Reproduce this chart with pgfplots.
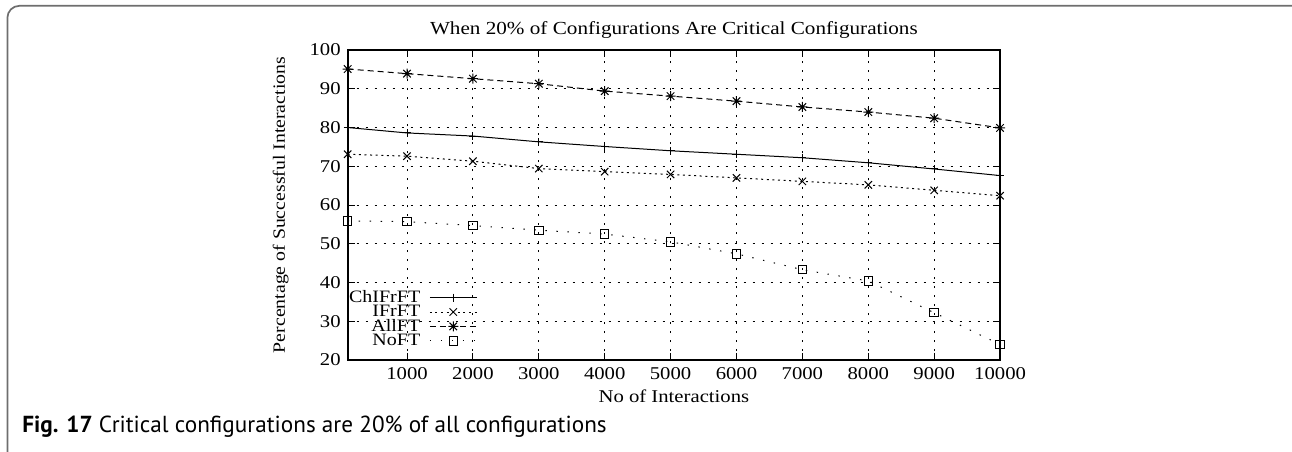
\documentclass[border=0pt]{standalone}
\usepackage{fontspec}
\setmainfont{Liberation Serif}[FakeStretch=1.15]
\newfontfamily\capfont{PT Sans}
\usepackage{pgfplots}
\pgfplotsset{compat=1.18}

\pgfdeclareplotmark{gpstar}{%
  \pgfpathmoveto{\pgfqpoint{-\pgfplotmarksize}{0pt}}\pgfpathlineto{\pgfqpoint{\pgfplotmarksize}{0pt}}%
  \pgfpathmoveto{\pgfqpoint{0pt}{-\pgfplotmarksize}}\pgfpathlineto{\pgfqpoint{0pt}{\pgfplotmarksize}}%
  \pgfpathmoveto{\pgfqpoint{-.75\pgfplotmarksize}{-.75\pgfplotmarksize}}\pgfpathlineto{\pgfqpoint{.75\pgfplotmarksize}{.75\pgfplotmarksize}}%
  \pgfpathmoveto{\pgfqpoint{-.75\pgfplotmarksize}{.75\pgfplotmarksize}}\pgfpathlineto{\pgfqpoint{.75\pgfplotmarksize}{-.75\pgfplotmarksize}}%
  \pgfusepathqstroke}

\begin{document}
\begin{tikzpicture}
\useasboundingbox (0,0) rectangle (646pt,-225.5pt);
\begin{scope}
\clip (0,0) rectangle (646pt,-225.5pt);
\draw[color={rgb,255:red,110;green,110;blue,110}, line width=0.85pt, rounded corners=6pt]
  (3.7pt,-230pt) -- (3.7pt,-2.9pt) -- (652pt,-2.9pt) -- (652pt,-20pt);
\end{scope}
\node[anchor=base west, inner sep=0pt, font=\capfont\fontsize{11.6}{13}\selectfont] at (11pt,-216pt)
  {\textbf{Fig. 17} Critical configurations are 20\% of all configurations};

\begin{axis}[
  at={(173.85pt,-180pt)}, anchor=south west,
  scale only axis, width=326.2pt, height=155pt,
  xmin=100, xmax=10000, ymin=20, ymax=100,
  xtick={1000,2000,3000,4000,5000,6000,7000,8000,9000,10000},
  xticklabels={1000,2000,3000,4000,5000,6000,7000,8000,9000,10000},
  scaled x ticks=false,
  ytick={20,30,40,50,60,70,80,90,100},
  /pgf/number format/assume math mode=true,
  /pgf/number format/1000 sep={},
  tick label style={font=\fontsize{9}{10}\selectfont},
  tick align=inside, major tick length=3.5pt,
  tick style={black, line width=0.5pt},
  axis line style={line width=1pt},
  grid=major,
  major grid style={black, line width=0.5pt, dash pattern=on 1.2pt off 3.3pt},
  title={When 20\% of Configurations Are Critical Configurations},
  every axis title shift=0pt,
  title style={at={(axis description cs:0.5,1.0645)}, anchor=center, font=\fontsize{9.2}{10}\selectfont},
  xlabel={No of Interactions},
  xlabel style={at={(axis description cs:0.5,-0.116)}, anchor=center, font=\fontsize{9}{10}\selectfont},
  ylabel={Percentage of Successful Interactions},
  ylabel style={at={(axis description cs:-0.1027,0.5)}, anchor=center, rotate=0, font=\fontsize{8.6}{10}\selectfont},
  every axis plot/.append style={black, line width=0.5pt},
  legend plot pos=right,
  legend cell align=right,
  legend image code/.code={\draw[mark repeat=2,mark phase=2,#1] plot coordinates {(0pt,0pt) (11.75pt,0pt) (23.5pt,0pt)};},
  legend style={at={(0,0)}, anchor=south west, yshift=5.8pt, draw=none, fill=none, inner sep=0pt,
    column sep=4pt,
    nodes={inner sep=0.5pt, text height=5.4pt, text depth=0.8pt, font=\fontsize{8.7}{9}\selectfont}},
]
\addplot[solid, mark=+, mark size=2pt, mark options={solid}] coordinates {
(100,80.0) (1000,78.6) (2000,77.8) (3000,76.3) (4000,75.1) (5000,74.0)
(6000,73.1) (7000,72.2) (8000,70.9) (9000,69.3) (10000,67.6)};
\addlegendentry{ChIFrFT}
\addplot[dash pattern=on 1pt off 1.8pt, mark=x, mark size=2.6pt, mark options={solid}] coordinates {
(100,73.1) (1000,72.6) (2000,71.3) (3000,69.4) (4000,68.6) (5000,67.9)
(6000,67.0) (7000,66.1) (8000,65.2) (9000,63.8) (10000,62.4)};
\addlegendentry{IFrFT}
\addplot[dash pattern=on 3pt off 2pt, mark=gpstar, mark size=2.5pt, mark options={solid}] coordinates {
(100,95.1) (1000,93.9) (2000,92.6) (3000,91.3) (4000,89.4) (5000,88.1)
(6000,86.8) (7000,85.3) (8000,84.0) (9000,82.4) (10000,79.9)};
\addlegendentry{AllFT}
\addplot[dash pattern=on 0.7pt off 4.8pt, mark=square, mark size=2.1pt, mark options={solid}] coordinates {
(100,55.9) (1000,55.7) (2000,54.7) (3000,53.5) (4000,52.5) (5000,50.5)
(6000,47.4) (7000,43.3) (8000,40.4) (9000,32.2) (10000,24.0)};
\addlegendentry{NoFT}
\end{axis}
\end{tikzpicture}
\end{document}
